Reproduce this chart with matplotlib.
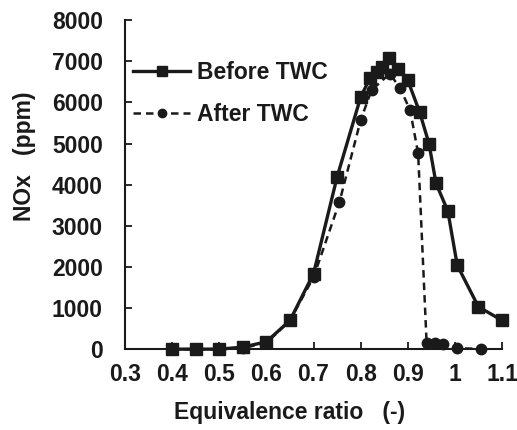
import matplotlib.pyplot as plt

plt.rcParams['font.family'] = ['Liberation Sans', 'DejaVu Sans']
plt.rcParams['font.weight'] = 'bold'

# equivalence ratio / NOx before the catalyst
phi_before = [0.4, 0.45, 0.5, 0.55, 0.6, 0.65, 0.7, 0.75, 0.8, 0.82, 0.835, 0.845,
              0.86, 0.88, 0.9, 0.925, 0.945, 0.96, 0.985, 1.005, 1.05, 1.1]
nox_before = [0, 0, 0, 50, 180, 700, 1840, 4190, 6130, 6600, 6740, 6860,
              7070, 6820, 6540, 5770, 5000, 4030, 3360, 2040, 1030, 700]

# after the catalyst
phi_after = [0.4, 0.45, 0.5, 0.55, 0.6, 0.65, 0.7, 0.755, 0.8, 0.823, 0.862,
             0.884, 0.905, 0.922, 0.94, 0.958, 0.975, 1.005, 1.055]
nox_after = [0, 0, 0, 30, 150, 700, 1750, 3580, 5570, 6300, 6700,
             6340, 5810, 4760, 140, 160, 120, 20, 10]

xticks = [0.3, 0.4, 0.5, 0.6, 0.7, 0.8, 0.9, 1.0, 1.1]
xticklabels = ['0.3', '0.4', '0.5', '0.6', '0.7', '0.8', '0.9', '1', '1.1']
yticks = [0, 1000, 2000, 3000, 4000, 5000, 6000, 7000, 8000]

fig = plt.figure(figsize=(5.17, 4.30), dpi=100)
ax = fig.add_axes([0.242, 0.188, 0.729, 0.765])

c = '#1a1a1a'
fs = 16.5
ax.plot(phi_before, nox_before, '-', color=c, lw=2.4, marker='s', ms=8.5,
        clip_on=False, zorder=3, label='Before TWC')
ax.plot(phi_after, nox_after, '--', color=c, lw=1.8, marker='o', ms=7.5,
        dashes=(3, 2), clip_on=False, zorder=4, label='After TWC')

ax.set_xlim(0.3, 1.1)
ax.set_ylim(0, 8000)
ax.set_xticks(xticks)
ax.set_xticklabels(xticklabels)
ax.set_yticks(yticks)
ax.tick_params(direction='in', length=5, width=1.3, labelsize=fs, colors=c)
ax.tick_params(axis='x', pad=10)
ax.tick_params(axis='y', pad=16)
for s in ['top', 'right']:
    ax.spines[s].set_visible(False)
for s in ['left', 'bottom']:
    ax.spines[s].set_linewidth(1.5)
    ax.spines[s].set_color(c)

fig.text(290 / 517, 1 - 412 / 430, 'Equivalence ratio   (-)', fontsize=fs,
         fontweight='bold', color=c, ha='center', va='center')
fig.text(25 / 517, 1 - 156 / 430, 'NOx   (ppm)', fontsize=fs,
         fontweight='bold', color=c, ha='center', va='center', rotation=90)

leg = ax.legend(loc='upper left', bbox_to_anchor=(0.021, 0.877), frameon=False,
                fontsize=fs, handlelength=2.5, handletextpad=0.3, labelspacing=0.85,
                borderaxespad=0, borderpad=0, markerscale=0.8)
for t in leg.get_texts():
    t.set_color(c)

fig.savefig('out.png', dpi=100)
